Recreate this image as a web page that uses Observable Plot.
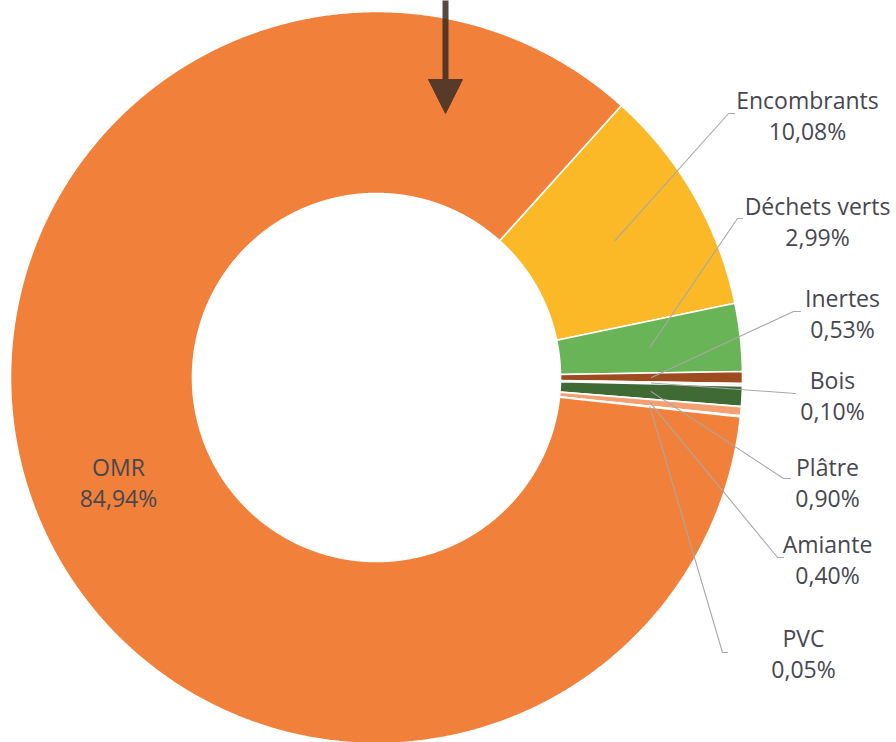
<!DOCTYPE html>
<html>
<head>
<meta charset="utf-8">
<script src="https://cdn.jsdelivr.net/npm/d3@7"></script>
<script src="https://cdn.jsdelivr.net/npm/@observablehq/plot@0.6"></script>
<style>
  html, body { margin: 0; padding: 0; background: #fff; }
</style>
</head>
<body>
<div id="chart"></div>
<script>
// ---- data ----
const categories = ["Encombrants", "Déchets verts", "Inertes", "Bois", "Plâtre", "Amiante", "PVC", "OMR"];
const shares = [10.08, 2.99, 0.53, 0.10, 0.90, 0.40, 0.05, 84.94];
const sliceColors = ["#FBB827", "#68B456", "#9E4B1F", "#F4F1EC", "#3F6A33", "#F4A071", "#F8C9A8", "#F0803A"];

// ---- layout (picture units) ----
const center = {x: 376, y: 377};
const outerR = 366, innerR = 184;
const startDeg = 42;
// label block centre and leader elbow/end per category
const labelX = [807, 817, 842, 832, 827, 827, 803, 118];
const labelY = [114, 220, 312, 394, 481, 558, 652, 481];
const elbowX = [728, 737, 793, null, 783, 777, 722, null];
const elbowY = [113, 218, 311, null, 478, 557, 652, null];
const endX = [734, 742, 800, 795, 790, 783, 727, null];
const endY = [113, 218, 311, 393, 478, 557, 652, null];
// arrow annotation
const arrowShaft = [{x1: 445, y1: 0, x2: 445, y2: 82}];
const arrowHead = [{x: 428, y: 79}, {x: 462, y: 79}, {x: 445, y: 113}, {x: 428, y: 79}];

// ---- geometry from values ----
const rad = d => d * Math.PI / 180;
const pt = (a, r) => ({x: center.x + r * Math.sin(rad(a)), y: center.y - r * Math.cos(rad(a))});
const total = d3.sum(shares);
let acc = startDeg;
const slices = categories.map((name, i) => {
  const a0 = acc, a1 = acc + shares[i] / total * 360;
  acc = a1;
  return {name, value: shares[i], a0, a1, mid: (a0 + a1) / 2, i};
});
const slicePts = [];
for (const s of slices) {
  const n = Math.max(2, Math.ceil((s.a1 - s.a0) / 0.25));
  const pts = [];
  for (let k = 0; k <= n; k++) pts.push(pt(s.a0 + (s.a1 - s.a0) * k / n, outerR));
  for (let k = n; k >= 0; k--) pts.push(pt(s.a0 + (s.a1 - s.a0) * k / n, innerR));
  pts.push(pts[0]);
  for (const p of pts) slicePts.push({name: s.name, x: p.x, y: p.y});
}
const leaderPts = [];
for (const s of slices) {
  const i = s.i;
  if (endX[i] == null) continue;
  const p0 = pt(s.mid, (outerR + innerR) / 2);
  leaderPts.push({name: s.name, x: p0.x, y: p0.y});
  if (elbowX[i] != null) leaderPts.push({name: s.name, x: elbowX[i], y: elbowY[i]});
  leaderPts.push({name: s.name, x: endX[i], y: endY[i]});
}
const labels = slices.map(s => ({
  name: s.name, x: labelX[s.i], y: labelY[s.i],
  text: s.name + "\n" + s.value.toFixed(2).replace(".", ",") + "%"
}));

const chart = Plot.plot({
  width: 896,
  height: 742,
  margin: 0,
  x: {domain: [0, 896], range: [0, 896], axis: null},
  y: {domain: [0, 742], range: [0, 742], axis: null},
  color: {domain: categories, range: sliceColors},
  style: {fontFamily: "'Open Sans', sans-serif", background: "#fff"},
  marks: [
    Plot.line(slicePts, {x: "x", y: "y", z: "name", fill: "name", stroke: "#fff", strokeWidth: 1.6, strokeLinejoin: "round", curve: "linear"}),
    Plot.line(leaderPts, {x: "x", y: "y", z: "name", stroke: "#a8a8a8", strokeWidth: 1.1, curve: "linear"}),
    Plot.text(labels, {x: "x", y: "y", text: "text", fontSize: 23, lineHeight: 1.35, fill: "#474750", textAnchor: "middle", lineAnchor: "middle"}),
    Plot.link(arrowShaft, {x1: "x1", y1: "y1", x2: "x2", y2: "y2", stroke: "#3a2a20", strokeOpacity: 0.85, strokeWidth: 6}),
    Plot.line(arrowHead, {x: "x", y: "y", fill: "#573a27", stroke: "#573a27", strokeWidth: 1})
  ]
});
document.getElementById("chart").appendChild(chart);
</script>
</body>
</html>
